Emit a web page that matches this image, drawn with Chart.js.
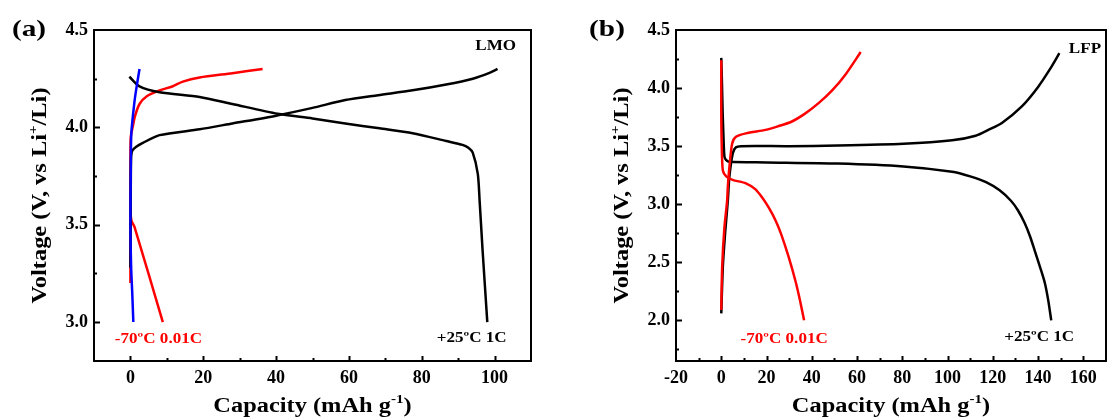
<!DOCTYPE html>
<html>
<head>
<meta charset="utf-8">
<script src="https://cdn.jsdelivr.net/npm/chart.js@4.4.1/dist/chart.umd.min.js"></script>
<style>
  html, body { margin: 0; padding: 0; background: #fff; }
  #wrap { position: relative; width: 1113px; height: 420px; overflow: hidden; }
  #chartA { position: absolute; left: 0; top: 0; }
  #chartB { position: absolute; left: 556px; top: 0; }
</style>
</head>
<body>
<div id="wrap">
  <canvas id="chartA" width="556" height="420"></canvas>
  <canvas id="chartB" width="557" height="420"></canvas>
</div>
<script>
// ---- (a) LMO, capacity (mAh/g) and voltage (V) ----
const lmoChgCap25 = [0, 0.05, 0.1, 0.2, 0.5, 1.6, 3.4, 8, 19, 28, 40, 50, 59, 68, 77.5, 86.7, 94, 98.6, 100.8];
const lmoChgV25   = [3.28, 3.5, 3.7, 3.85, 3.88, 3.90, 3.92, 3.96, 3.99, 4.02, 4.06, 4.10, 4.14, 4.165, 4.19, 4.22, 4.25, 4.28, 4.30];
const lmoDisCap25 = [-0.3, 2.5, 8, 19, 28, 40.4, 50, 59, 68.4, 77.5, 86.7, 91.2, 92.8, 94, 95.4, 95.9, 96.7, 98];
const lmoDisV25   = [4.26, 4.21, 4.18, 4.156, 4.12, 4.07, 4.046, 4.02, 3.995, 3.97, 3.93, 3.91, 3.895, 3.87, 3.76, 3.62, 3.37, 3.0];
const lmoChgCap70 = [0, 0, 0, 0.1, 0.6, 1.3, 2.5, 4.5, 8, 11.5, 14.4, 19, 28, 36.3];
const lmoChgV70   = [3.2, 3.5, 3.86, 3.95, 4.0, 4.06, 4.12, 4.16, 4.19, 4.21, 4.235, 4.256, 4.278, 4.30];
const lmoDisCap70 = [0, 0.3, 1.1, 8.9];
const lmoDisV70   = [3.56, 3.52, 3.49, 3.0];
const lmoBlueCap  = [0.8, 0.5, 0.2, 0, 0.1, 0.25, 1.1, 1.8, 2.5];
const lmoBlueV    = [3.0, 3.15, 3.28, 3.5, 3.8, 3.97, 4.13, 4.22, 4.30];

// ---- (b) LFP ----
const lfpChgCap25 = [0, 0.7, 1.7, 2.9, 3.6, 5.1, 6.5, 8.7, 30, 51.5, 80.5, 102, 112.4, 118, 124, 132.7, 140, 145.8, 149.4];
const lfpChgV25   = [2.06, 2.46, 2.75, 3.03, 3.24, 3.44, 3.49, 3.50, 3.50, 3.505, 3.52, 3.55, 3.59, 3.64, 3.70, 3.84, 4.01, 4.18, 4.30];
const lfpDisCap25 = [0, 0.3, 0.6, 1.0, 1.4, 2.2, 3.6, 20, 51.5, 80.5, 102, 110, 117, 123, 128, 131, 134, 136.5, 138.5, 141, 143, 144.5, 145.8];
const lfpDisV25   = [4.26, 4.05, 3.8, 3.57, 3.41, 3.38, 3.365, 3.36, 3.35, 3.325, 3.28, 3.24, 3.19, 3.12, 3.03, 2.95, 2.84, 2.72, 2.60, 2.45, 2.32, 2.17, 2.0];
const lfpChgCap70 = [0, 0.4, 1.4, 2.6, 2.9, 3.6, 4.8, 6.5, 10.9, 19.6, 25, 31, 37, 43, 49, 55, 61.6];
const lfpChgV70   = [2.09, 2.46, 2.80, 3.03, 3.15, 3.32, 3.52, 3.58, 3.61, 3.64, 3.67, 3.71, 3.78, 3.87, 3.98, 4.12, 4.31];
const lfpDisCap70 = [0, 0, 0.2, 0.7, 2.2, 5, 10.9, 15, 18, 21, 24, 26.5, 29.7, 32.9, 34.8, 36.6];
const lfpDisV70   = [4.24, 3.8, 3.52, 3.29, 3.24, 3.21, 3.18, 3.13, 3.06, 2.97, 2.86, 2.74, 2.55, 2.33, 2.17, 2.0];

const FONT = '"Liberation Serif", "Times New Roman", serif';
const STRETCH = 1.22;

function pts(caps, volts) {
    return caps.map((c, i) => ({ x: c, y: volts[i] }));
}

function isMult(v, step) {
    return Math.abs(v / step - Math.round(v / step)) < 1e-6;
}

// text with optional superscript parts, centred on (cx, cy)
function drawRich(ctx, parts, cx, cy, size, color, rot) {
    ctx.save();
    ctx.translate(cx, cy);
    if (rot) ctx.rotate(rot);
    ctx.scale(STRETCH, 1);
    ctx.fillStyle = color;
    ctx.textBaseline = 'alphabetic';
    ctx.textAlign = 'left';
    let w = 0;
    parts.forEach(p => {
        ctx.font = 'bold ' + (p[1] ? size * 0.62 : size) + 'px ' + FONT;
        w += ctx.measureText(p[0]).width;
    });
    let xx = -w / 2;
    parts.forEach(p => {
        ctx.font = 'bold ' + (p[1] ? size * 0.62 : size) + 'px ' + FONT;
        ctx.fillText(p[0], xx, p[1] ? size * 0.33 - size * 0.42 : size * 0.33);
        xx += ctx.measureText(p[0]).width;
    });
    ctx.restore();
}

// box frame, inward ticks, titles and notes
const framePlugin = {
    id: 'frame',
    afterDraw(chart, args, o) {
        const { ctx, chartArea: a, scales: { x, y } } = chart;
        ctx.save();
        ctx.strokeStyle = '#000';
        ctx.lineWidth = 2;
        x.ticks.forEach(t => {
            if (t.value <= x.min || t.value >= x.max) return;
            const px = Math.round(x.getPixelForValue(t.value)) + 0.5;
            const len = isMult(t.value, o.xMajor) ? 5 : 3;
            ctx.beginPath();
            ctx.moveTo(px, a.bottom);
            ctx.lineTo(px, a.bottom - len);
            ctx.stroke();
        });
        y.ticks.forEach(t => {
            if (t.value <= y.min || t.value >= y.max) return;
            const py = Math.round(y.getPixelForValue(t.value)) + 0.5;
            const len = isMult(t.value, o.yMajor) ? 6 : 3;
            ctx.beginPath();
            ctx.moveTo(a.left, py);
            ctx.lineTo(a.left + len, py);
            ctx.stroke();
        });
        ctx.strokeRect(a.left, a.top, a.right - a.left, a.bottom - a.top);
        ctx.restore();

        drawRich(ctx, [['Capacity (mAh g', 0], ['-1', 1], [')', 0]], (a.left + a.right) / 2, 405, 20, '#000');
        drawRich(ctx, [['Voltage (V, vs Li', 0], ['+', 1], ['/Li)', 0]], o.yTitleX, (a.top + a.bottom) / 2, 20, '#000', -Math.PI / 2);
        drawRich(ctx, [[o.panel, 0]], o.panelX, 28, 24, '#000');
        o.notes.forEach(n => {
            drawRich(ctx, [[n.text, 0]], x.getPixelForValue(n.x), y.getPixelForValue(n.y), 14, n.color, 0);
        });
    }
};

function curve(data, color) {
    return {
        data: data,
        borderColor: color,
        borderWidth: 2.5,
        pointRadius: 0,
        showLine: true,
        fill: false,
        tension: 0.25
    };
}

function makeChart(id, datasets, cfg) {
    const tickFont = { family: FONT, size: 18, weight: 'bold' };
    return new Chart(document.getElementById(id), {
        type: 'scatter',
        data: { datasets: datasets },
        options: {
            responsive: false,
            animation: false,
            layout: { padding: { top: 30, right: cfg.padRight, left: 0, bottom: 0 } },
            plugins: {
                legend: { display: false },
                tooltip: { enabled: false },
                frame: cfg.frame
            },
            scales: {
                x: {
                    type: 'linear',
                    min: cfg.xMin, max: cfg.xMax,
                    grid: { display: false, drawTicks: false },
                    border: { display: false },
                    ticks: {
                        stepSize: 10, autoSkip: false, maxRotation: 0, includeBounds: false,
                        padding: 7, color: '#000', font: tickFont,
                        callback: v => isMult(v, 20) ? String(v) : ''
                    },
                    afterFit: s => { s.height = 59; }
                },
                y: {
                    type: 'linear',
                    min: cfg.yMin, max: cfg.yMax,
                    grid: { display: false, drawTicks: false },
                    border: { display: false },
                    ticks: {
                        stepSize: 0.25, autoSkip: false, includeBounds: false,
                        padding: 6, color: '#000', font: tickFont,
                        callback: v => isMult(v, 0.5) ? v.toFixed(1) : ''
                    },
                    afterFit: s => { s.width = cfg.left; }
                }
            }
        },
        plugins: [framePlugin]
    });
}

makeChart('chartA', [
    curve(pts(lmoBlueCap, lmoBlueV), '#0000ff'),
    curve(pts(lmoChgCap25, lmoChgV25), '#000000'),
    curve(pts(lmoDisCap25, lmoDisV25), '#000000'),
    curve(pts(lmoChgCap70, lmoChgV70), '#ff0000'),
    curve(pts(lmoDisCap70, lmoDisV70), '#ff0000')
], {
    xMin: -10, xMax: 110, yMin: 2.8, yMax: 4.5, left: 94, padRight: 25,
    frame: {
        xMajor: 20, yMajor: 0.5, yTitleX: 39, panel: '(a)', panelX: 29,
        notes: [
            { text: 'LMO', x: 100.3, y: 4.42, color: '#000' },
            { text: '-70ºC 0.01C', x: 7.7, y: 2.918, color: '#ff0000' },
            { text: '+25ºC 1C', x: 93.7, y: 2.923, color: '#000' }
        ]
    }
});

makeChart('chartB', [
    curve(pts(lfpChgCap70, lfpChgV70), '#ff0000'),
    curve(pts(lfpDisCap70, lfpDisV70), '#ff0000'),
    curve(pts(lfpChgCap25, lfpChgV25), '#000000'),
    curve(pts(lfpDisCap25, lfpDisV25), '#000000')
], {
    xMin: -20, xMax: 170, yMin: 1.65, yMax: 4.5, left: 120, padRight: 2,
    frame: {
        xMajor: 20, yMajor: 0.5, yTitleX: 65, panel: '(b)', panelX: 51,
        notes: [
            { text: 'LFP', x: 160.7, y: 4.345, color: '#000' },
            { text: '-70ºC 0.01C', x: 27.8, y: 1.845, color: '#ff0000' },
            { text: '+25ºC 1C', x: 140.5, y: 1.862, color: '#000' }
        ]
    }
});
</script>
</body>
</html>
